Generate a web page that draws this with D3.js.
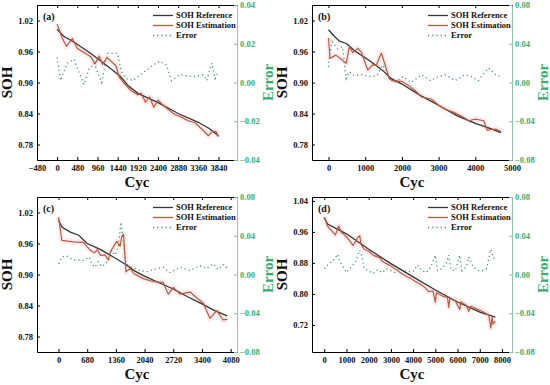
<!DOCTYPE html>
<html>
<head>
<meta charset="utf-8">
<script src="https://cdn.jsdelivr.net/npm/d3@7"></script>
<style>
  body { margin: 0; background: #fff; }
  svg { display: block; }
  text { font-family: 'Liberation Serif', 'Times New Roman', serif; font-weight: bold; }
</style>
</head>
<body>
<div id="wrapper"></div>
<script>
// data: [cycle, value]
const refA = [[0,1.003],[150,0.99],[400,0.978],[700,0.962],[1000,0.944],[1300,0.925],[1500,0.912],[1700,0.893],[1920,0.879],[2400,0.861],[2880,0.840],[3360,0.823],[3600,0.812],[3840,0.797]];
const estA = [[0,1.013],[120,0.986],[220,0.970],[360,0.985],[480,0.966],[640,0.958],[800,0.950],[900,0.936],[1000,0.951],[1080,0.935],[1180,0.948],[1300,0.940],[1400,0.932],[1480,0.910],[1600,0.898],[1760,0.884],[1920,0.876],[2000,0.879],[2100,0.862],[2200,0.872],[2300,0.852],[2400,0.866],[2500,0.858],[2640,0.848],[2800,0.838],[2960,0.833],[3120,0.826],[3280,0.822],[3440,0.810],[3600,0.797],[3700,0.806],[3780,0.805],[3840,0.795]];
const errA = [[0,0.013],[80,0.001],[240,0.010],[400,0.012],[560,0.003],[640,-0.001],[760,0.007],[880,0.010],[1000,0.003],[1060,0.000],[1200,0.015],[1440,0.015],[1520,0.006],[1640,0.002],[1800,0.001],[2040,0.005],[2280,0.009],[2440,0.011],[2600,0.009],[2720,0.001],[2920,0.004],[3240,0.003],[3480,0.004],[3560,0.001],[3680,0.010],[3760,0.002],[3840,0.006]];

const refB = [[0,1.002],[150,0.99],[300,0.980],[500,0.975],[700,0.962],[1000,0.948],[1300,0.933],[1500,0.922],[1700,0.908],[2000,0.897],[2500,0.875],[3000,0.856],[3500,0.836],[4000,0.821],[4400,0.811],[4700,0.803]];
const estB = [[0,0.986],[40,0.947],[200,0.953],[380,0.943],[480,0.937],[570,0.969],[660,0.958],[800,0.966],[900,0.958],[1070,0.924],[1200,0.934],[1300,0.933],[1440,0.957],[1660,0.907],[1760,0.903],[2000,0.902],[2200,0.893],[2350,0.885],[2540,0.872],[2800,0.868],[3000,0.856],[3180,0.848],[3400,0.843],[3640,0.834],[3820,0.826],[4000,0.829],[4230,0.826],[4320,0.808],[4550,0.810],[4700,0.805]];
const errB = [[0,0.016],[20,0.027],[100,0.042],[250,0.035],[380,0.037],[480,0.004],[560,0.011],[700,0.007],[900,0.008],[1150,0.006],[1320,0.007],[1470,0.018],[1570,0.013],[1660,0.004],[1800,0.000],[2030,0.006],[2250,0.000],[2540,0.008],[2770,0.002],[3000,0.006],[3180,0.008],[3450,0.002],[3720,0.008],[3900,0.006],[4080,0.002],[4270,0.011],[4360,0.015],[4550,0.008],[4700,0.006]];

const refC = [[0,1.005],[80,0.992],[280,0.982],[480,0.976],[680,0.960],[1000,0.948],[1360,0.931],[1600,0.919],[1800,0.907],[2040,0.897],[2380,0.884],[2720,0.872],[3060,0.857],[3400,0.843],[3700,0.830],[4000,0.820]];
const estC = [[0,1.011],[80,0.966],[350,0.963],[590,0.962],[750,0.947],[850,0.942],[920,0.948],[1000,0.937],[1100,0.938],[1180,0.928],[1230,0.944],[1380,0.964],[1460,0.955],[1500,0.974],[1540,0.978],[1600,0.905],[1700,0.912],[1780,0.902],[2010,0.892],[2250,0.886],[2480,0.885],[2600,0.862],[2720,0.875],[2880,0.862],[3120,0.866],[3270,0.855],[3430,0.845],[3590,0.815],[3750,0.830],[3900,0.812],[4000,0.813]];
const errC = [[0,0.011],[80,0.018],[200,0.019],[350,0.015],[590,0.0145],[730,0.018],[780,0.011],[860,0.0075],[940,0.013],[1040,0.008],[1180,0.015],[1260,0.025],[1340,0.020],[1420,0.030],[1480,0.054],[1520,0.040],[1600,0.011],[1730,0.0075],[1930,0.004],[2090,0.003],[2330,0.006],[2480,0.0075],[2640,0.002],[2880,0.0075],[3110,0.004],[3350,0.009],[3510,0.006],[3670,0.011],[3780,0.005],[3900,0.010],[4000,0.0065]];

const refD = [[0,0.997],[150,0.980],[1000,0.955],[2000,0.915],[3000,0.878],[4000,0.844],[5000,0.810],[6000,0.779],[7000,0.753],[7700,0.740]];
const estD = [[0,0.998],[150,0.975],[300,0.965],[500,0.952],[650,0.975],[780,0.958],[1000,0.948],[1300,0.925],[1500,0.945],[1600,0.950],[1650,0.928],[1800,0.915],[2000,0.910],[2200,0.900],[2500,0.893],[2600,0.885],[2800,0.878],[3000,0.872],[3300,0.860],[3500,0.852],[3700,0.845],[3900,0.840],[4100,0.832],[4300,0.826],[4500,0.818],[4700,0.806],[4900,0.808],[5000,0.778],[5050,0.803],[5300,0.795],[5550,0.790],[5600,0.765],[5650,0.788],[5900,0.782],[6100,0.760],[6150,0.780],[6400,0.770],[6500,0.755],[6600,0.768],[6900,0.760],[7100,0.755],[7400,0.745],[7500,0.712],[7550,0.740],[7600,0.722],[7700,0.730]];
const errD = [[0,0.006],[200,0.011],[400,0.014],[600,0.021],[700,0.014],[800,0.010],[1000,0.002],[1200,0.008],[1400,0.012],[1600,0.025],[1700,0.018],[1800,0.006],[2000,0.004],[2200,0.001],[2400,0.005],[2600,0.002],[2800,0.006],[3000,0.004],[3200,0.002],[3400,0.006],[3600,0.004],[3800,0.003],[4000,0.003],[4200,0.010],[4400,0.004],[4600,0.002],[4800,0.008],[5000,0.020],[5100,0.004],[5300,0.006],[5500,0.012],[5600,0.020],[5700,0.005],[5900,0.004],[6100,0.020],[6200,0.004],[6400,0.008],[6500,0.018],[6700,0.008],[6900,0.004],[7100,0.004],[7300,0.006],[7500,0.026],[7600,0.018],[7700,0.015]];

// ticks
const xTicksA = [-480, 0, 480, 960, 1440, 1920, 2400, 2880, 3360, 3840];
const xTicksB = [0, 1000, 2000, 3000, 4000, 5000];
const xTicksC = [0, 680, 1360, 2040, 2720, 3400, 4080];
const xTicksD = [0, 1000, 2000, 3000, 4000, 5000, 6000, 7000, 8000];
const sohTicks = [0.78, 0.84, 0.90, 0.96, 1.02];
const sohTicksD = [0.72, 0.80, 0.88, 0.96, 1.04];
const errTicksA = [-0.04, -0.02, 0, 0.02, 0.04];
const errTicks = [-0.08, -0.04, 0, 0.04, 0.08];
const legendNames = ['SOH Reference', 'SOH Estimation', 'Error'];

const panels = [
  { label: '(a)', ox: 0, oy: 0, ref: refA, est: estA, err: errA, xd: [-480, 4280], xt: xTicksA, yd: [0.75, 1.05], yt: sohTicks, ed: [-0.04, 0.04], et: errTicksA },
  { label: '(b)', ox: 275, oy: 0, ref: refB, est: estB, err: errB, xd: [-450, 5000], xt: xTicksB, yd: [0.75, 1.05], yt: sohTicks, ed: [-0.08, 0.08], et: errTicks },
  { label: '(c)', ox: 0, oy: 192, ref: refC, est: estC, err: errC, xd: [-510, 4230], xt: xTicksC, yd: [0.75, 1.05], yt: sohTicks, ed: [-0.08, 0.08], et: errTicks },
  { label: '(d)', ox: 275, oy: 192, ref: refD, est: estD, err: errD, xd: [-550, 8450], xt: xTicksD, yd: [0.65, 1.05], yt: sohTicksD, ed: [-0.08, 0.08], et: errTicks },
];

const refColor = '#363636';
const estColor = '#bb5a38';
const errColor = '#3f9e64';
const greenText = '#3aae72';

const svg = d3.select('#wrapper').append('svg').attr('width', 550).attr('height', 385);

const L = 37, R = 237, T = 5, B = 160;

panels.forEach((p, i) => {
  const g = svg.append('g').attr('transform', `translate(${p.ox},${p.oy})`);
  const x = d3.scaleLinear().domain(p.xd).range([L, R]);
  const y = d3.scaleLinear().domain(p.yd).range([B, T]);
  const y2 = d3.scaleLinear().domain(p.ed).range([B, T]);

  g.append('clipPath').attr('id', 'clip' + i)
    .append('rect').attr('x', L).attr('y', T).attr('width', R - L).attr('height', B - T);

  const plot = g.append('g').attr('clip-path', `url(#clip${i})`);

  const line = d3.line().x((d) => x(d[0])).y((d) => y(d[1]));
  const errLine = d3.line().x((d) => x(d[0])).y((d) => y2(d[1]));

  // pale pink band round the estimate
  plot.append('path').attr('d', line(p.est))
    .attr('fill', 'none').attr('stroke', '#f9c4d6').attr('stroke-opacity', 0.3)
    .attr('stroke-width', 6).attr('stroke-linejoin', 'round');

  plot.append('path').attr('d', errLine(p.err))
    .attr('fill', 'none').attr('stroke', errColor).attr('stroke-width', 1.3)
    .attr('stroke-dasharray', '1.2,3');

  plot.append('path').attr('d', line(p.ref))
    .attr('fill', 'none').attr('stroke', refColor).attr('stroke-width', 1.3);

  plot.append('path').attr('d', line(p.est))
    .attr('fill', 'none').attr('stroke', estColor).attr('stroke-width', 1.2)
    .attr('stroke-linejoin', 'round');

  // axes
  const ax = (sel) => sel.call((s) => s.selectAll('text').attr('font-size', 8.5).attr('fill', '#111'));

  g.append('g').attr('transform', `translate(0,${B})`)
    .call(d3.axisBottom(x).tickValues(p.xt).tickFormat(d3.format('d')).tickSize(-3).tickSizeOuter(0).tickPadding(5))
    .call(ax);
  g.append('g').attr('transform', `translate(0,${T})`)
    .call(d3.axisTop(x).tickValues(p.xt).tickFormat('').tickSize(-3).tickSizeOuter(0));
  g.append('g').attr('transform', `translate(${L},0)`)
    .call(d3.axisLeft(y).tickValues(p.yt).tickFormat(d3.format('.2f')).tickSize(-3).tickSizeOuter(0).tickPadding(4))
    .call(ax);
  const rAxis = g.append('g').attr('transform', `translate(${R},0)`)
    .call(d3.axisRight(y2).tickValues(p.et).tickFormat(d3.format('.2f')).tickSize(-3).tickSizeOuter(0).tickPadding(3));
  rAxis.selectAll('text').attr('font-size', 8.5).attr('fill', greenText);
  rAxis.selectAll('line').attr('stroke', '#7cc29a');
  rAxis.select('.domain').attr('stroke', '#8fcaa8');

  g.selectAll('.domain').attr('stroke-width', 1);

  // titles
  g.append('text').attr('x', (L + R) / 2).attr('y', 187).attr('text-anchor', 'middle')
    .attr('font-size', 15).attr('fill', '#111').text('Cyc');
  g.append('text').attr('transform', `translate(12,${(T + B) / 2}) rotate(-90)`)
    .attr('text-anchor', 'middle').attr('font-size', 15).attr('fill', '#111').text('SOH');
  g.append('text').attr('transform', `translate(273,${(T + B) / 2}) rotate(-90)`)
    .attr('text-anchor', 'middle').attr('font-size', 15).attr('fill', greenText).text('Error');
  g.append('text').attr('x', 43).attr('y', 19.5).attr('font-size', 10).attr('fill', '#111').text(p.label);

  // legend
  const leg = g.append('g');
  legendNames.forEach((name, k) => {
    const ly = 15.5 + k * 10;
    const ln = leg.append('line').attr('x1', 153).attr('x2', 173).attr('y1', ly).attr('y2', ly)
      .attr('stroke', [refColor, estColor, errColor][k]).attr('stroke-width', 1.3);
    if (k === 2) ln.attr('stroke-dasharray', '1.2,3');
    leg.append('text').attr('x', 176).attr('y', ly).attr('dy', '0.35em')
      .attr('font-size', 8.5).attr('fill', '#111').text(name);
  });
});
</script>
</body>
</html>
